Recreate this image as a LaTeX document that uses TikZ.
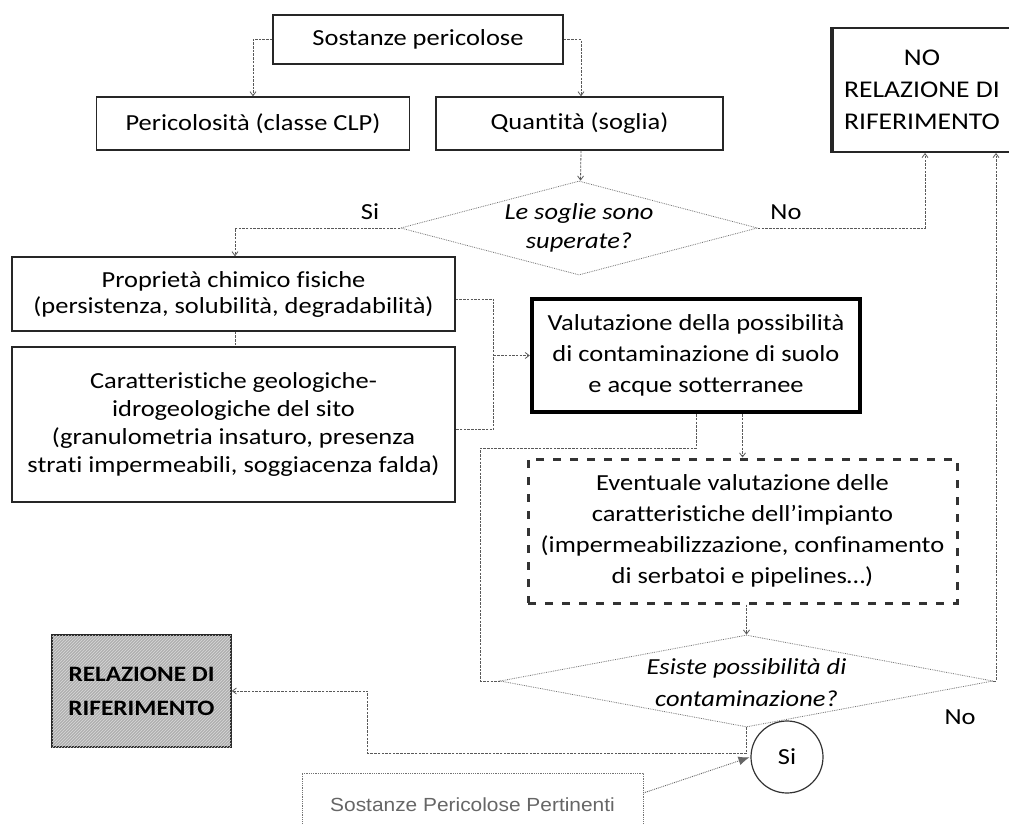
\documentclass[tikz,border=0pt]{standalone}
\usepackage{fontspec}
\setmainfont{Carlito}[FakeStretch=1.15, Ligatures=CommonOff]
\newfontfamily\arialfont{Liberation Sans}[FakeStretch=1.1]
\usetikzlibrary{arrows.meta,shapes.geometric,patterns}
\tikzset{
  box/.style={draw=black!85, line width=1.4pt, align=center, inner sep=0pt, font=\fontsize{23}{27}\selectfont},
  conn/.style={draw=black!65, line width=0.8pt, dash pattern=on 2.5pt off 1.2pt},
  tip/.style={-{Straight Barb[length=4pt,width=6pt]}},
  dia/.style={shape=diamond, draw=black!55, line width=0.8pt, densely dotted, inner sep=0pt},
  diatext/.style={align=center, font=\fontsize{23}{29}\selectfont\itshape},
  lbl/.style={font=\fontsize{23}{27}\selectfont}
}
\begin{document}
\begin{tikzpicture}[x=1pt,y=-1pt]
\useasboundingbox (0,0) rectangle (1009,824);
% boxes
\node[box, minimum width=290, minimum height=49] (sost) at (418,39.5) {Sostanze pericolose};
\node[box, minimum width=313, minimum height=53] (peric) at (253,123.5) {Pericolosità (classe CLP)};
\node[box, minimum width=287, minimum height=53] (quant) at (579.5,123.5) {Quantità (soglia)};
\node[box, line width=2pt, minimum width=178, minimum height=124, font=\fontsize{24}{32}\selectfont] (norel) at (922,90) {NO\\RELAZIONE DI\\RIFERIMENTO};
\draw[black!85, line width=3.5pt] (norel.south west) -- (norel.north west);
% diamond 1
\node[dia, minimum width=357, minimum height=94] (dia1) at (579,228) {};
\node[diatext] (dia1t) at (579,228) {Le soglie sono\\superate?};
\node[lbl] (si1) at (370,212) {Si};
\node[lbl] (no1) at (786,212) {No};
% left column
\node[box, minimum width=443, minimum height=74, font=\fontsize{23}{26}\selectfont] (prop) at (233.5,294) {Proprietà chimico fisiche\\(persistenza, solubilità, degradabilità)};
\node[box, minimum width=443, minimum height=155, font=\fontsize{23}{28}\selectfont] (car) at (233.5,424.5) {Caratteristiche geologiche-\\idrogeologiche del sito\\(granulometria insaturo, presenza\\strati impermeabili, soggiacenza falda)};
% centre
\node[box, draw=black, line width=4.5pt, minimum width=328, minimum height=113, font=\fontsize{23}{31}\selectfont] (valut) at (696,355.5) {Valutazione della possibilità\\di contaminazione di suolo\\e acque sotterranee};
\node[box, draw=black!80, line width=3pt, dash pattern=on 8pt off 9pt, minimum width=429, minimum height=144, font=\fontsize{23}{31}\selectfont] (evt) at (742.5,531) {Eventuale valutazione delle\\caratteristiche dell’impianto\\(impermeabilizzazione, confinamento\\di serbatoi e pipelines…)};
% diamond 2
\node[dia, minimum width=493, minimum height=92] (dia2) at (746.5,681) {};
\node[diatext, font=\fontsize{23}{32}\selectfont\itshape] (dia2t) at (746.5,683) {Esiste possibilità di\\contaminazione?};
\node[lbl] (no2) at (960,717) {No};
% bottom
\node[draw=black!80, line width=1.2pt, circle, minimum size=72, inner sep=0pt, font=\fontsize{23}{27}\selectfont] (si) at (787,757) {Si};
\node[box, draw=black!85, line width=1.6pt, fill=gray!62, postaction={pattern=north east lines, pattern color=gray!30}, minimum width=179, minimum height=112, font=\fontsize{22}{34}\selectfont\bfseries] (rel) at (141.5,691) {RELAZIONE DI\\RIFERIMENTO};
\node[draw=black!55, line width=0.8pt, densely dotted, minimum width=341, minimum height=64, inner sep=0pt, text=black!60, font=\arialfont\fontsize{19}{23}\selectfont] (pert) at (472.5,805) {Sostanze Pericolose Pertinenti};
% connectors
\draw[conn, tip] (sost.west) -| (peric.north);
\draw[conn, tip] (sost.east) -| ([xshift=1.5pt]quant.north);
\draw[conn, tip] ([xshift=1.5pt]quant.south) -- ([xshift=1.5pt]dia1.north);
\draw[conn, tip] (dia1.west) -| ([xshift=1.5pt]prop.north);
\draw[conn] ([xshift=1.5pt]prop.south) -- ([xshift=1.5pt]car.north);
\draw[conn, tip] (dia1.east) -| ([xshift=3pt]norel.south);
\draw[conn] ([yshift=-5pt]prop.east) -- ++(38,0) coordinate (bt) |- ([yshift=-5pt]car.east);
\draw[conn, tip] (bt |- valut.west) -- (valut.west);
\draw[conn, tip] (evt.north |- valut.south) -- (evt.north);
\draw[conn] (valut.south) -- ++(0,34) -| ([xshift=-19pt]dia2.west) -- (dia2.west);
\draw[conn, tip] (dia2.north |- evt.south) -- (dia2.north);
\draw[conn, tip] (dia2.east) -| ([xshift=-16pt]norel.south east);
\draw[conn, tip] (dia2.south) -- ++(0,26) -| ([xshift=136pt]rel.east) -- (rel.east);
\draw[draw=black!60, line width=0.9pt, densely dotted, -{Latex[length=11pt,width=9pt]}, shorten >=1pt] ([yshift=12pt]pert.east) -- (si.west);
\end{tikzpicture}
\end{document}
